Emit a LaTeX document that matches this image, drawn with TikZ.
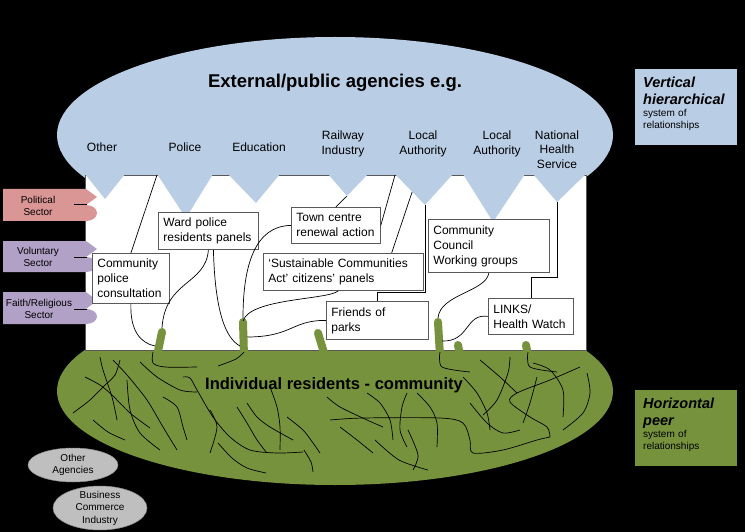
\documentclass[tikz,border=0pt]{standalone}
\usepackage{fontspec}
\setmainfont{Liberation Sans}
\usepackage{xcolor}
\definecolor{agencyblue}{RGB}{185,205,229}
\definecolor{communitygreen}{RGB}{118,146,60}
\definecolor{politicalred}{RGB}{217,150,148}
\definecolor{voluntarypurple}{RGB}{178,161,199}
\definecolor{boxline}{RGB}{89,89,89}
\usepackage{tikz}
\usetikzlibrary{calc}
\newcommand{\kind}[1]{{\fontsize{14.5}{17}\selectfont\bfseries\itshape #1}}

\begin{document}
\begin{tikzpicture}[x=1pt, y=-1pt,
  agencylabel/.style={font=\fontsize{12}{14.5}\selectfont, align=center},
  orgbox/.style={draw=boxline, line width=0.8pt, fill=white, anchor=north west,
    font=\fontsize{12}{15}\selectfont, align=left, inner xsep=5pt, inner ysep=0pt},
  conn/.style={black, line width=0.7pt},
  stalk/.style={communitygreen, line width=8pt, line cap=round},
  scribble/.style={black, line width=0.7pt},
  sectortab/.style={font=\fontsize{10}{12.5}\selectfont, align=center},
  othertab/.style={font=\fontsize{10}{12.5}\selectfont, align=center},
  note/.style={anchor=north west, font=\fontsize{10}{12}\selectfont, align=left,
    text width=86pt, inner xsep=8pt, inner ysep=0pt, text height=18pt, text depth=58pt}]
  \useasboundingbox (0,0) rectangle (745,532);
  \fill[black] (0,0) rectangle (745,532);

  % agencies above, community below, neighbourhood between
  \fill[agencyblue] (335,135) ellipse (278 and 98);
  \fill[communitygreen] (335,391) ellipse (278 and 94);
  \filldraw[fill=white, draw=boxline, line width=0.8pt] (85,175) rectangle (586,350);

  % teeth of the agencies
  \coordinate (tother) at (105,199);
  \coordinate (tpolice) at (186,218);
  \coordinate (tpolice-l) at (157,175);
  \coordinate (teducation) at (256,203);
  \coordinate (trailway) at (347,196);
  \coordinate (tlocal) at (425,205);
  \coordinate (tlocal-l) at (395,175);
  \coordinate (tlocalb) at (493,222);
  \coordinate (tnhs) at (557,202);
  \fill[agencyblue] (85,174) -- (tother) -- (125,174) -- cycle;
  \fill[agencyblue] (157,174) -- (tpolice) -- (213,174) -- cycle;
  \fill[agencyblue] (228,174) -- (teducation) -- (280,174) -- cycle;
  \fill[agencyblue] (328,174) -- (trailway) -- (368,174) -- cycle;
  \fill[agencyblue] (395,174) -- (tlocal) -- (453,174) -- cycle;
  \fill[agencyblue] (463,174) -- (tlocalb) -- (525,174) -- cycle;
  \fill[agencyblue] (533,174) -- (tnhs) -- (586,174) -- cycle;

  % sector tabs
  \fill[politicalred] (3,189) -- (86,189) -- (97,197) -- (86,205)
    arc[start angle=90, end angle=-90, x radius=11pt, y radius=8pt] -- (3,221) -- cycle;
  \draw[black, line width=1pt] (74,205) -- (87,205);
  \fill[voluntarypurple] (3,241) -- (86,241) -- (97,249) -- (86,257)
    arc[start angle=90, end angle=-90, x radius=11pt, y radius=7.5pt] -- (3,272) -- cycle;
  \draw[black, line width=1pt] (74,257) -- (87,257);
  \fill[voluntarypurple] (3,292) -- (86,292) -- (97,300.5) -- (86,309)
    arc[start angle=90, end angle=-90, x radius=11pt, y radius=7.5pt] -- (3,324) -- cycle;
  \draw[black, line width=1pt] (74,309) -- (87,309);

  % roots into the community
  \coordinate (st1) at (162,328);
  \coordinate (st2) at (243,318);
  \coordinate (st3) at (318,329);
  \coordinate (st4) at (438,318);
  \coordinate (st5) at (458,341);
  \coordinate (st6) at (526,341);
  \coordinate (st1-l) at (155,346);
  \coordinate (st2-l) at (240,346);
  \coordinate (st2-r) at (247,337);
  \coordinate (st4-r) at (442,341);
  \draw[stalk] ([yshift=-4pt]st1) -- (157,356);
  \draw[stalk] ([yshift=-4pt]st2) -- (244,356);
  \draw[stalk] ([yshift=-4pt]st3) -- (325,356);
  \draw[stalk] ([yshift=-4pt]st4) -- (440,356);
  \draw[stalk] ([yshift=-4pt]st5) -- (460,356);
  \draw[stalk] ([yshift=-4pt]st6) -- (528,356);

  % local groups
  \node[orgbox, text width=90pt, minimum height=37pt] (ward) at (158,212) {Ward police\\residents panels};
  \node[orgbox, text width=67pt, minimum height=50pt] (consult) at (92,253) {Community\\police\\consultation};
  \node[orgbox, text width=79pt, minimum height=36pt] (town) at (291,207) {Town centre\\renewal action};
  \node[orgbox, text width=150pt, minimum height=37pt] (panels) at (263,253) {‘Sustainable Communities\\Act’ citizens’ panels};
  \node[orgbox, text width=92pt, minimum height=38pt] (parks) at (326,301) {Friends of\\parks};
  \node[orgbox, text width=111pt, minimum height=53pt] (council) at (428,219) {Community\\Council\\Working groups};
  \node[orgbox, text width=75pt, minimum height=36pt] (links) at (488,298) {LINKS/\\Health Watch};

  % agencies to groups
  \draw[conn] (tpolice-l) -- (consult.north);
  \draw[conn] (trailway) -- (town.north);
  \draw[conn] (tlocal-l) -- (town.east);
  \draw[conn] ($(tlocal-l)!0.57!(tlocal)$) -- ($(panels.north)!0.6!(panels.north east)$);
  \draw[conn] (tlocal) |- ([yshift=9pt]parks.north) -- (parks.north);
  \draw[conn] (tnhs) |- ([yshift=21pt]links.north) -- (links.north);

  % groups to roots
  \draw[conn] (consult.south) .. controls (130,330) and (140,343) .. (st1-l);
  \draw[conn] (ward.south) .. controls (206,285) and (165,280) .. (st1);
  \draw[conn] ([xshift=5pt]ward.south) .. controls (215,310) and (225,338) .. (st2-l);
  \draw[conn] (town.west) .. controls (255,226) and (243,265) .. (st2);
  \draw[conn] ([xshift=-5pt]panels.south) .. controls (328,300) and (250,298) .. ([yshift=-3pt]st2);
  \draw[conn] (parks.west) .. controls (292,320) and (292,337) .. (st2-r);
  \draw[conn] (council.south) .. controls (486,292) and (440,294) .. (st4);
  \draw[conn] (links.west) .. controls (465,313) and (470,342) .. (st4-r);

  % peer relationships
  \draw[scribble] plot[smooth] coordinates {(85,377) (100,385) (112,395) (130,413) (150,428)};
  \draw[scribble] plot[smooth] coordinates {(73,413) (90,400) (103,387) (115,375) (120,360)};
  \draw[scribble] plot[smooth] coordinates {(100,357) (103,370) (112,397) (117,420)};
  \draw[scribble] plot[smooth] coordinates {(113,360) (127,375) (147,400) (163,427) (177,450)};
  \draw[scribble] plot[smooth] coordinates {(127,380) (130,410) (140,433) (160,450)};
  \draw[scribble] plot[smooth] coordinates {(153,352) (153,363) (165,367) (197,367)};
  \draw[scribble] plot[smooth] coordinates {(244,352) (236,359) (218,366)};
  \draw[scribble] plot[smooth] coordinates {(140,362) (157,377) (180,390) (197,392)};
  \draw[scribble] plot[smooth] coordinates {(163,397) (177,407) (183,427) (187,440)};
  \draw[scribble] plot[smooth] coordinates {(183,377) (190,378) (197,390) (213,417) (230,437) (250,450) (277,453) (303,452)};
  \draw[scribble] plot[smooth] coordinates {(210,410) (217,427) (210,453)};
  \draw[scribble] plot[smooth] coordinates {(237,407) (247,423) (257,440) (267,453)};
  \draw[scribble] plot[smooth] coordinates {(270,387) (277,407) (280,427) (280,450)};
  \draw[scribble] plot[smooth] coordinates {(287,417) (303,430) (313,443) (320,453)};
  \draw[scribble] plot[smooth] coordinates {(247,403) (257,417) (270,427) (293,440)};
  \draw[scribble] plot[smooth] coordinates {(327,397) (340,407) (367,420) (383,427)};
  \draw[scribble] plot[smooth] coordinates {(330,420) (363,418) (440,418) (463,423) (470,440) (473,453) (503,450) (537,440) (550,437)};
  \draw[scribble] plot[smooth] coordinates {(367,393) (380,403) (390,420) (393,440)};
  \draw[scribble] plot[smooth] coordinates {(407,393) (402,407) (400,430) (407,447)};
  \draw[scribble] plot[smooth] coordinates {(417,393) (430,407) (437,423) (437,447)};
  \draw[scribble] plot[smooth] coordinates {(340,427) (357,440) (373,453)};
  \draw[scribble] plot[smooth] coordinates {(440,352) (442,367) (470,372)};
  \draw[scribble] plot[smooth] coordinates {(480,360) (500,377) (517,393)};
  \draw[scribble] plot[smooth] coordinates {(510,357) (508,373) (497,400) (483,415)};
  \draw[scribble] plot[smooth] coordinates {(528,352) (530,367) (557,372)};
  \draw[scribble] plot[smooth] coordinates {(533,363) (550,370) (563,390) (563,417)};
  \draw[scribble] plot[smooth] coordinates {(580,367) (550,380) (517,393) (510,402) (530,417) (547,427) (550,437)};
  \draw[scribble] plot[smooth] coordinates {(587,373) (590,393) (583,413) (563,430)};
  \draw[scribble] plot[smooth] coordinates {(537,377) (530,403) (523,423)};
  \draw[scribble] plot[smooth] coordinates {(463,377) (477,393) (487,413) (490,430)};
  \draw[scribble] plot[smooth] coordinates {(470,403) (487,423) (503,433) (520,430)};
  \draw[scribble] plot[smooth] coordinates {(218,443) (232,458) (247,468) (266,473)};
  \draw[scribble] plot[smooth] coordinates {(304,450) (311,462) (313,472)};
  \draw[scribble] plot[smooth] coordinates {(375,440) (399,460) (428,470)};
  \draw[scribble] plot[smooth] coordinates {(408,430) (418,455) (413,470)};
  \draw[scribble] plot[smooth] coordinates {(93,420) (108,432) (125,440)};

  % other actors
  \filldraw[fill=black!25, draw=black!45, line width=0.5pt] (73,465) ellipse (45 and 17);
  \filldraw[fill=black!25, draw=black!45, line width=0.5pt] (100,508) ellipse (47 and 22);

  % labels
  \node[font=\fontsize{18.5}{22}\selectfont\bfseries, anchor=base] (agencies) at (335,88) {External/public agencies e.g.};
  \node[font=\fontsize{16.5}{20}\selectfont\bfseries, anchor=base] (residents) at (334,389) {Individual residents - community};
  \node[agencylabel] (agother) at (102,147) {Other};
  \node[agencylabel] (agpolice) at (185,147) {Police};
  \node[agencylabel] (ageducation) at (259,147) {Education};
  \node[agencylabel] (agrailway) at (343,144) {Railway\\Industry};
  \node[agencylabel] (aglocal) at (423,144) {Local\\Authority};
  \node[agencylabel] (aglocalb) at (497,144) {Local\\Authority};
  \node[agencylabel] (agnhs) at (557,149.5) {National\\Health\\Service};
  \node[sectortab] (political) at (38,206) {Political\\Sector};
  \node[sectortab] (voluntary) at (38,257) {Voluntary\\Sector};
  \node[sectortab] (faith) at (39,309) {Faith/Religious\\Sector};
  \node[othertab] (otheragencies) at (73,465) {Other\\Agencies};
  \node[othertab] (business) at (100,508) {Business\\Commerce\\Industry};
  \node[note, fill=agencyblue] (vertical) at (635,69)
    {\kind{Vertical}\\[5pt]\kind{hierarchical}\\ system of\\ relationships};
  \node[note, fill=communitygreen] (horizontal) at (635,390)
    {\kind{Horizontal}\\[5pt]\kind{peer}\\ system of\\ relationships};
\end{tikzpicture}
\end{document}
